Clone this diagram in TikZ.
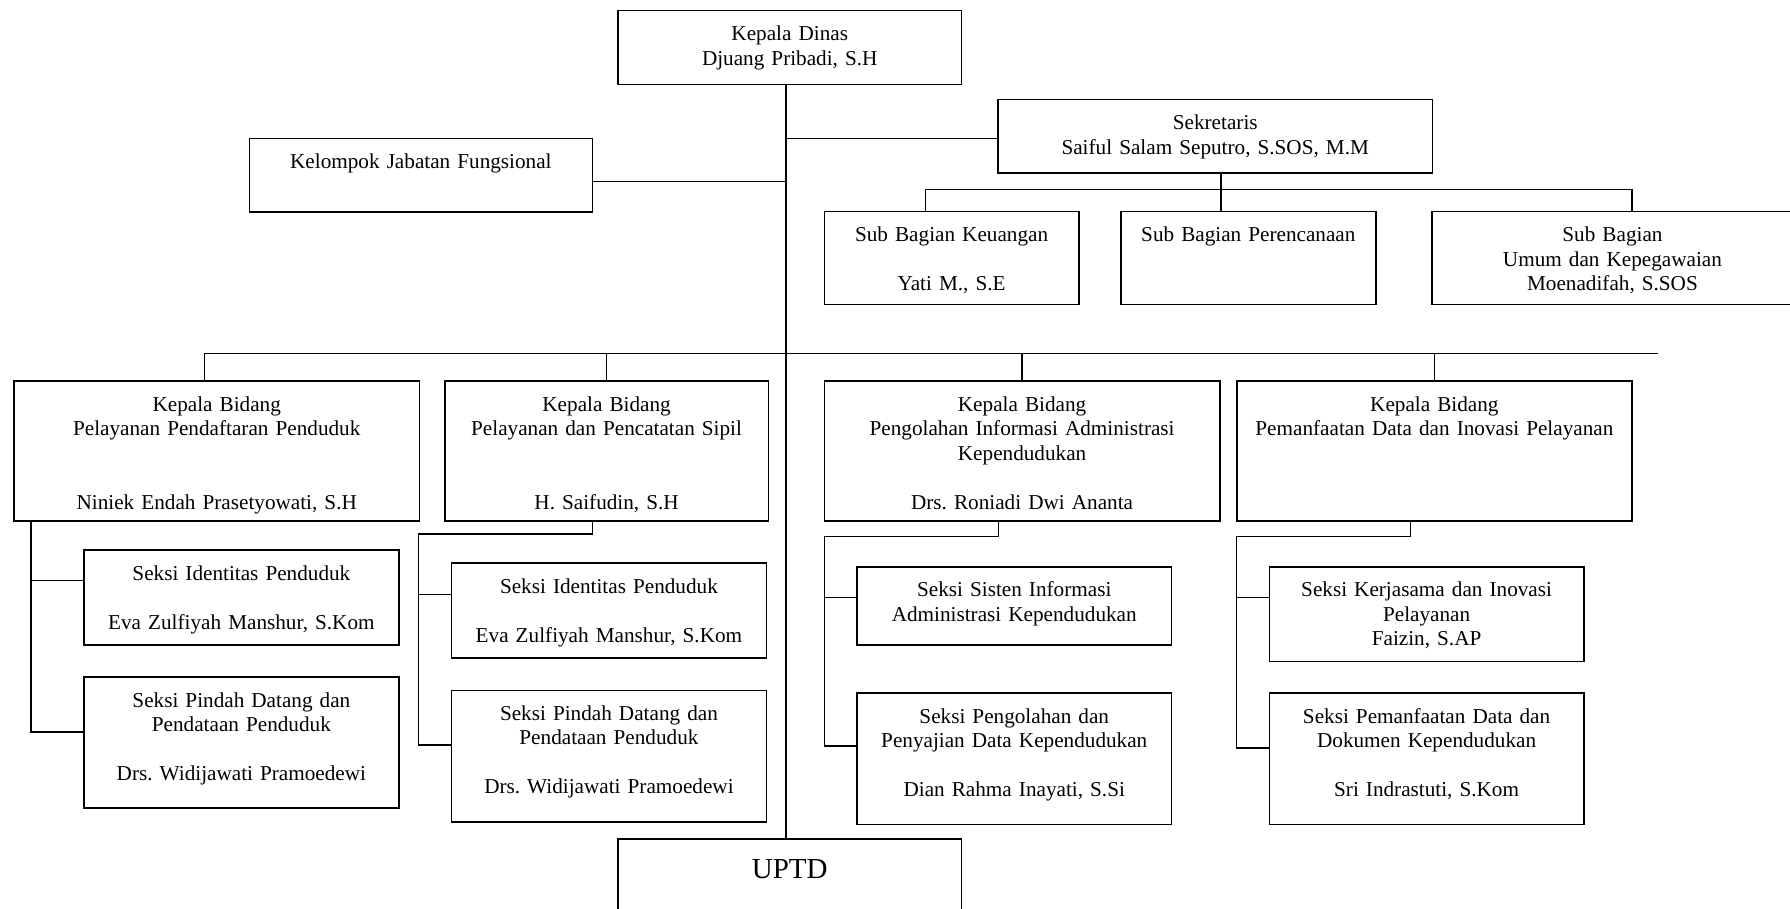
\documentclass[tikz,border=0pt]{standalone}
\usepackage{fontspec}
\setmainfont{Liberation Serif}
\frenchspacing

\begin{document}
\begin{tikzpicture}[x=0.5pt,y=-0.5pt]
		\tikzstyle {kotak} = [draw, line width=0.75pt, inner sep=0pt, anchor=north west, align=center, text height=15pt, font=\fontsize{10.6}{12.25}\selectfont]
		\tikzstyle {garis} = [line width=0.75pt]

		\useasboundingbox (0,0) rectangle (1790,909);
		\fill[white] (0,0) rectangle (1790,909);

		\node[kotak, text width=171.7pt, text depth=21.85pt] (kadis) at (617.3,10) {Kepala Dinas\\Djuang Pribadi, S.H};
		\node[kotak, text width=171.55pt, text depth=21.8pt] (kjf) at (248.6,137.7) {Kelompok Jabatan Fungsional};
		\node[kotak, text width=217.2pt, text depth=21.65pt] (sekr) at (997.3,99) {Sekretaris\\Saiful Salam Seputro, S.SOS, M.M};

		\node[kotak, text width=127.15pt, text depth=31.35pt] (keu) at (823.7,211) {Sub Bagian Keuangan\\~\\Yati M., S.E};
		\node[kotak, text width=127.4pt, text depth=31.35pt] (ren) at (1120.2,211) {Sub Bagian Perencanaan};
		\node[kotak, text width=180.7pt, text depth=31.35pt] (umum) at (1431,211) {Sub Bagian\\Umum dan Kepegawaian\\Moenadifah, S.SOS};

		\node[kotak, text width=202.7pt, text depth=55pt] (kb1) at (13.3,380.3) {Kepala Bidang\\Pelayanan Pendaftaran Penduduk\\~\\~\\Niniek Endah Prasetyowati, S.H};
		\node[kotak, text width=161.85pt, text depth=55pt] (kb2) at (444,380.3) {Kepala Bidang\\Pelayanan dan Pencatatan Sipil\\~\\~\\H. Saifudin, S.H};
		\node[kotak, text width=197.65pt, text depth=55pt] (kb3) at (823.7,380.3) {Kepala Bidang\\Pengolahan Informasi Administrasi\\Kependudukan\\~\\Drs. Roniadi Dwi Ananta};
		\node[kotak, text width=197.65pt, text depth=55pt] (kb4) at (1236,380.3) {Kepala Bidang\\Pemanfaatan Data dan Inovasi Pelayanan};

		\node[kotak, text width=157.35pt, text depth=32.35pt] (s11) at (83.3,549.3) {Seksi Identitas Penduduk\\~\\Eva Zulfiyah Manshur, S.Kom};
		\node[kotak, text width=157.35pt, text depth=50.5pt] (s12) at (83.3,676.3) {Seksi Pindah Datang dan\\Pendataan Penduduk\\~\\Drs. Widijawati Pramoedewi};
		\node[kotak, text width=157.5pt, text depth=32.5pt] (s21) at (450.7,562.3) {Seksi Identitas Penduduk\\~\\Eva Zulfiyah Manshur, S.Kom};
		\node[kotak, text width=157.5pt, text depth=50.65pt] (s22) at (450.7,689.7) {Seksi Pindah Datang dan\\Pendataan Penduduk\\~\\Drs. Widijawati Pramoedewi};
		\node[kotak, text width=157.2pt, text depth=24pt] (s31) at (856.3,566) {Seksi Sisten Informasi\\Administrasi Kependudukan};
		\node[kotak, text width=157.2pt, text depth=50.7pt] (s32) at (856.3,692.3) {Seksi Pengolahan dan\\Penyajian Data Kependudukan\\~\\Dian Rahma Inayati, S.Si};
		\node[kotak, text width=157.15pt, text depth=32.35pt] (s41) at (1268.7,566) {Seksi Kerjasama dan Inovasi\\Pelayanan\\Faizin, S.AP};
		\node[kotak, text width=157.15pt, text depth=50.7pt] (s42) at (1268.7,692.3) {Seksi Pemanfaatan Data dan\\Dokumen Kependudukan\\~\\Sri Indrastuti, S.Kom};

		\node[kotak, text width=171.7pt, text height=19.65pt, text depth=25.35pt, font=\fontsize{14.5}{17}\selectfont] (uptd) at (617.3,838) {UPTD};

		\coordinate (trunk) at ([xshift=-2pt]kadis.south);
		\draw[garis] (trunk) -- ([xshift=-2pt]uptd.north);
		\draw[garis] ([yshift=-3.25pt]kjf.east) -- ([yshift=-3.25pt]kjf.east -| trunk);
		\draw[garis] ([yshift=-1pt]sekr.west) -- ([yshift=-1pt]sekr.west -| trunk);

		\draw[garis] ([xshift=2.75pt]sekr.south) -- ([xshift=2.75pt]sekr.south |- ren.north);
		\draw[garis] ([xshift=-13.1pt]keu.north) -- ++(0,-21.7) -| ([xshift=9.75pt]umum.north);

		\coordinate (busend) at (1658,353.3);
		\draw[garis] ([xshift=-6.15pt]kb1.north) |- (busend);
		\draw[garis] (kb2.north) -- (kb2.north |- busend);
		\draw[garis] (kb3.north) -- (kb3.north |- busend);
		\draw[garis] (kb4.north) -- (kb4.north |- busend);

		\coordinate (k1) at ([xshift=8.85pt]kb1.south west);
		\draw[garis] (k1) |- ([yshift=5.4pt]s12.west);
		\draw[garis] ([yshift=8.5pt]s11.west) -- ([yshift=8.5pt]s11.west -| k1);

		\coordinate (k2) at (418.3,534);
		\draw[garis] ([xshift=-7.1pt]kb2.south) |- (k2) |- ([yshift=5.5pt]s22.west);
		\draw[garis] ([yshift=8.05pt]s21.west) -- ([yshift=8.05pt]s21.west -| k2);

		\coordinate (k3) at (824.3,536.7);
		\draw[garis] ([xshift=-11.8pt]kb3.south) |- (k3) |- ([yshift=6.5pt]s32.west);
		\draw[garis] ([yshift=4.15pt]s31.west) -- ([yshift=4.15pt]s31.west -| k3);

		\coordinate (k4) at (1236.7,536.7);
		\draw[garis] ([xshift=-12pt]kb4.south) |- (k4) |- ([yshift=5.35pt]s42.west);
		\draw[garis] ([yshift=8.2pt]s41.west) -- ([yshift=8.2pt]s41.west -| k4);

	\end{tikzpicture}
\end{document}
